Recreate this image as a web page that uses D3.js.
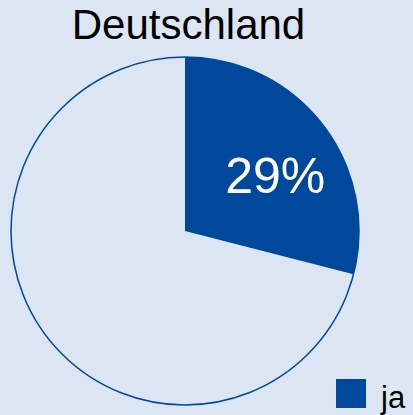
<!DOCTYPE html>
<html><head><meta charset="utf-8">
<script src="https://cdn.jsdelivr.net/npm/d3@7/dist/d3.min.js"></script>
<style>html,body{margin:0;padding:0;background:#dce6f2;overflow:hidden}</style>
</head><body>
<script>
const title = "Deutschland";
const categories = ["ja", "nein"];
const values = [29, 71];
const legendItems = ["ja"];

const W = 413, H = 415;
const blue = "#00489c";
const svg = d3.select("body").append("svg").attr("width", W).attr("height", H)
  .style("font-family", "'Liberation Sans', Arial, sans-serif");
svg.append("rect").attr("width", W).attr("height", H).attr("fill", "#dce6f2");

svg.append("text").attr("x", 188.5).attr("y", 39).attr("text-anchor", "middle")
  .attr("font-size", 42).attr("fill", "#000").text(title);

const cx = 185, cy = 231, r = 174;
const g = svg.append("g").attr("transform", `translate(${cx},${cy})`);
const data = categories.map((c, i) => ({cat: c, value: values[i]}));
const pie = d3.pie().value(d => d.value).sort(null);
const arc = d3.arc().innerRadius(0).outerRadius(r);
const arcs = pie(data);
const color = d3.scaleOrdinal().domain(categories).range([blue, "none"]);

g.selectAll("path.slice").data(arcs).join("path").attr("class", "slice")
  .attr("d", arc).attr("fill", d => color(d.data.cat));
g.append("circle").attr("r", r).attr("fill", "none").attr("stroke", blue).attr("stroke-width", 1.5);

const total = d3.sum(values);
const labelArc = d3.arc().innerRadius(r * 0.62).outerRadius(r * 0.62);
const a0 = arcs[0];
const [lx, ly] = labelArc.centroid(a0);
g.append("text").attr("x", lx + 5).attr("y", ly + 28).attr("text-anchor", "middle")
  .attr("font-size", 50).attr("fill", "#fff")
  .text(Math.round(a0.data.value / total * 100) + "%");

const leg = svg.append("g");
legendItems.forEach((c, i) => {
  leg.append("rect").attr("x", 336).attr("y", 379).attr("width", 30).attr("height", 29).attr("fill", color(c));
  leg.append("text").attr("x", 381).attr("y", 408).attr("font-size", 31).attr("fill", "#000").text(c);
});
</script>
</body></html>
